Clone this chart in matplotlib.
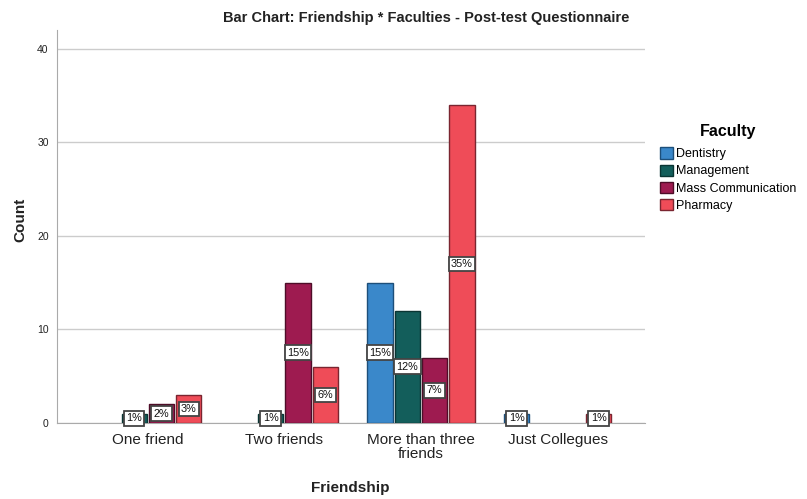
import numpy as np
import matplotlib
matplotlib.use('Agg')
import matplotlib.pyplot as plt
from matplotlib.patches import Patch

categories = ['One friend', 'Two friends', 'More than three\nfriends', 'Just Collegues']
faculties = ['Dentistry', 'Management', 'Mass Communication', 'Pharmacy']
dentistry = [0, 0, 15, 1]
management = [1, 1, 12, 0]
mass_comm = [2, 15, 7, 0]
pharmacy = [3, 6, 34, 1]

colors = ['#3a88ca', '#135e5b', '#9e1b50', '#ef4c58']
edges = ['#1d4f7a', '#0a3533', '#4e0d28', '#7a2530']

plt.rcParams['font.family'] = ['Liberation Sans', 'DejaVu Sans']

fig = plt.figure(figsize=(8.07, 4.99), dpi=100)
ax = fig.add_axes([57/807, 1-423/499, (645-57)/807, (423-30)/499])

series = [dentistry, management, mass_comm, pharmacy]
total = sum(sum(s) for s in series)
x = np.arange(len(categories))
offsets = [-0.3, -0.1, 0.1, 0.3]
for s, off, c, ec in zip(series, offsets, colors, edges):
    for xi, v in zip(x, s):
        if v == 0:
            continue
        ax.bar(xi + off, v, width=0.185, color=c, edgecolor=ec, linewidth=1, zorder=3)
        # percentage of all respondents, boxed in the middle of the bar
        ax.text(xi + off, v / 2, f'{round(v / total * 100):d}%', ha='center', va='center',
                fontsize=7.8, color='#111111', zorder=4,
                bbox=dict(boxstyle='square,pad=0.22', fc='white', ec='#444444', lw=1.3))

ax.set_xlim(-0.665, 3.64)
ax.set_ylim(0, 42)
ax.set_yticks([0, 10, 20, 30, 40])
ax.set_xticks(x)
ax.set_xticklabels(categories, fontsize=11, color='#222222', linespacing=1.05)
ax.tick_params(axis='y', labelsize=7.5, length=0, pad=6, colors='#222222')
ax.tick_params(axis='x', length=0, pad=7)
ax.grid(axis='y', color='#cccccc', lw=1, zorder=0)
for sp in ['top', 'right']:
    ax.spines[sp].set_visible(False)
ax.spines['left'].set_color('#aaaaaa')
ax.spines['bottom'].set_color('#aaaaaa')

fig.text(426/807, 1-18/499, 'Bar Chart: Friendship * Faculties - Post-test Questionnaire',
         ha='center', va='center', fontsize=10.5, fontweight='bold', color='#222222')
fig.text(20/807, 1-220/499, 'Count', rotation=90, ha='center', va='center',
         fontsize=11, fontweight='bold', color='#222222')
fig.text(350/807, 1-488/499, 'Friendship', ha='center', va='center',
         fontsize=11, fontweight='bold', color='#222222')

handles = [Patch(facecolor=c, edgecolor=ec, label=f) for c, ec, f in zip(colors, edges, faculties)]
leg = fig.legend(handles=handles, title='Faculty', loc='upper left',
                 bbox_to_anchor=(655/807, 1-119/499), frameon=False, fontsize=9,
                 handlelength=1.0, handleheight=1.0, handletextpad=0.25,
                 labelspacing=0.35, borderaxespad=0)
leg.get_title().set_fontweight('bold')
leg.get_title().set_fontsize(11.5)
leg._legend_box.align = 'center'
leg._legend_box.sep = 6

fig.savefig('out.png', dpi=100)
